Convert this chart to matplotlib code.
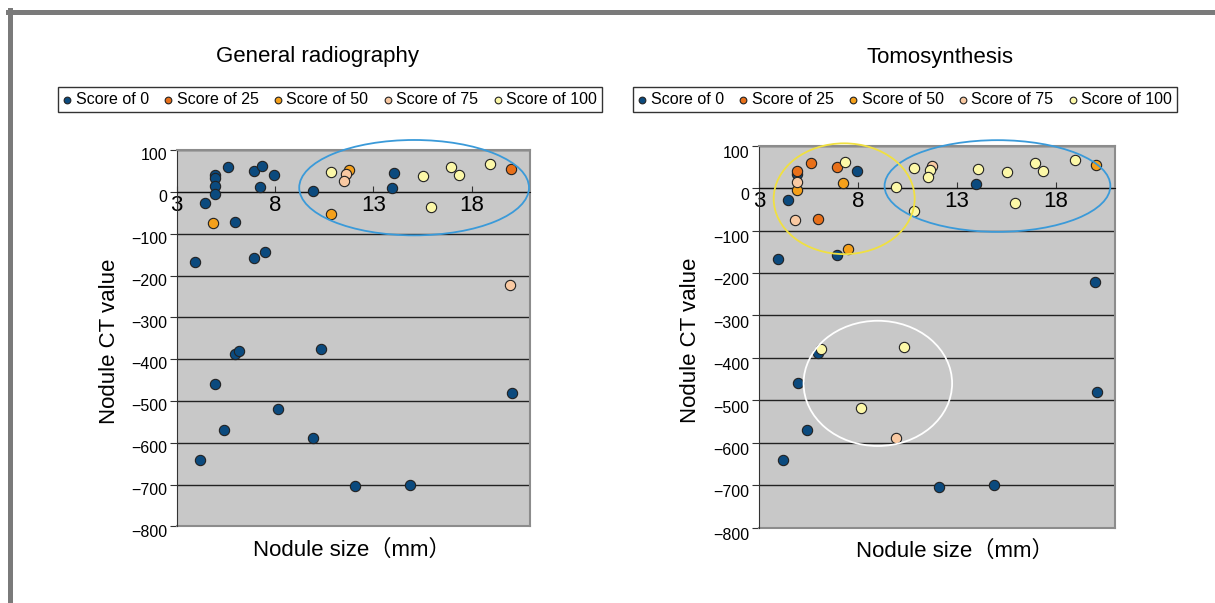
import matplotlib
matplotlib.use("Agg")
import matplotlib.pyplot as plt
from matplotlib.patches import Ellipse
from matplotlib.lines import Line2D
from matplotlib.transforms import ScaledTranslation

plt.rcParams['font.family'] = ['Liberation Sans', 'Noto Sans CJK JP', 'DejaVu Sans']

# nodule size (mm) and CT value, same nodules in both panels
size_mm = [4.45, 4.84, 4.93, 4.93, 4.93, 4.93, 5.63, 5.98, 6.96, 7.35,
           7.25, 7.96, 9.94, 10.85, 10.85, 11.75, 11.63, 11.53, 14.07, 13.98,
           15.54, 15.94, 16.95, 17.35, 18.95, 20.0, 3.94, 6.96, 7.47, 19.98,
           5.97, 6.15, 10.33, 4.95, 20.07, 8.16, 5.43, 9.93, 4.21, 12.07, 14.85]
ct_value = [-27, -75, 40, 34, 14, -4, 60, -73, 49, 62,
            12, 40, 2, 47, -54, 52, 42, 27, 44, 10,
            37, -36, 60, 40, 67, 55, -168, -157, -143, -222,
            -388, -380, -375, -460, -480, -518, -570, -588, -641, -704, -700]

score_radiography = [0, 50, 0, 0, 0, 0, 0, 0, 0, 0,
                     0, 0, 0, 100, 50, 50, 75, 75, 0, 0,
                     100, 100, 100, 100, 100, 25, 0, 0, 0, 75,
                     0, 0, 0, 0, 0, 0, 0, 0, 0, 0, 0]
score_tomo = [0, 75, 25, 0, 75, 50, 25, 25, 25, 100,
              50, 0, 100, 100, 100, 75, 100, 100, 100, 0,
              100, 100, 100, 100, 100, 50, 0, 0, 50, 0,
              0, 100, 100, 0, 0, 100, 0, 75, 0, 0, 0]

score_levels = [0, 25, 50, 75, 100]
score_colors = ['#0B4A7E', '#E8701A', '#F5A01A', '#F9C9A2', '#FCF8A8']
x_ticks = [3, 8, 13, 18]
y_ticks = list(range(-800, 101, 100))

fig = plt.figure(figsize=(12.15, 6.03), dpi=100)


def draw_panel(rect, scores, title, title_xy, ylab_xy, xlab_xy, legend_xy, ellipses, ylab_shift):
    ax = fig.add_axes(rect)
    ax.set_facecolor('#C8C8C8')
    for lvl, col in zip(score_levels, score_colors):
        xs = [x for x, s in zip(size_mm, scores) if s == lvl]
        ys = [y for y, s in zip(ct_value, scores) if s == lvl]
        ax.scatter(xs, ys, s=55, color=col, edgecolor='#222222', linewidth=0.8,
                   zorder=3, label=f"Score of {lvl}")
    ax.set_xlim(3, 21)
    ax.set_ylim(-800, 100)
    ax.set_xticks(x_ticks)
    ax.set_yticks(y_ticks)
    ax.spines['bottom'].set_position(('data', 0))
    ax.spines['bottom'].set_color('#111111')
    ax.spines['left'].set_color('#333333')
    for side in ['top', 'right']:
        ax.spines[side].set_color('#8C8C8C')
        ax.spines[side].set_linewidth(1.5)
    ax.axhline(-800, color='#8C8C8C', lw=1.5, clip_on=False, zorder=2)
    ax.yaxis.grid(True, color='#222222', lw=1)
    ax.set_axisbelow(True)
    ax.tick_params(axis='x', direction='in', length=4, labelsize=16, pad=2, color='#333333')
    ax.tick_params(axis='y', direction='out', length=5, labelsize=11.5, pad=2, color='#333333')
    # y tick labels sit slightly below their gridlines in the original
    shift = ScaledTranslation(0, -ylab_shift / 72, fig.dpi_scale_trans)
    for lbl in ax.get_yticklabels():
        lbl.set_transform(lbl.get_transform() + shift)

    for (cx, cy, w, h, ec) in ellipses:
        ax.add_patch(Ellipse((cx, cy), w, h, fill=False, edgecolor=ec, lw=1.3,
                             clip_on=False, zorder=4))

    fig.text(title_xy[0], title_xy[1], title, ha='center', va='center', fontsize=16)
    fig.text(ylab_xy[0], ylab_xy[1], "Nodule CT value", ha='center', va='center',
             rotation=90, fontsize=16)
    fig.text(xlab_xy[0], xlab_xy[1], "Nodule size（mm）", ha='center', va='center',
             fontsize=16)
    leg = fig.legend(*ax.get_legend_handles_labels(), loc='center',
                     bbox_to_anchor=legend_xy, ncol=5, fontsize=11.5, frameon=True,
                     fancybox=False, edgecolor='black', markerscale=0.65,
                     handlelength=0.5, handletextpad=0.3, columnspacing=0.95,
                     borderpad=0.3)
    leg.get_frame().set_linewidth(1.0)
    return ax


draw_panel([0.1454, 0.1269, 0.2912, 0.6243], score_radiography, "General radiography",
           (0.2617, 0.9055), (0.0905, 0.4345), (0.2896, 0.0879), (0.2716, 0.835),
           [(15.08, 10, 11.69, 228, '#3A9AD9')], 3)
draw_panel([0.6247, 0.1249, 0.2934, 0.6335], score_tomo, "Tomosynthesis",
           (0.7737, 0.904), (0.5687, 0.436), (0.7859, 0.0862), (0.7449, 0.835),
           [(15.04, 5, 11.4, 216, '#3A9AD9'),
            (7.30, -25, 7.12, 261, '#F0E040'),
            (9.0, -460, 7.5, 295, '#FFFFFF')], 4.5)

# page frame
fig.add_artist(Line2D([8 / 1215, 1], [1 - 12 / 603, 1 - 12 / 603], transform=fig.transFigure,
                      color='#7A7A7A', lw=3.6))
fig.add_artist(Line2D([10.5 / 1215, 10.5 / 1215], [0, 1 - 10 / 603], transform=fig.transFigure,
                      color='#7A7A7A', lw=3.6))

fig.savefig("out.png", dpi=100)
